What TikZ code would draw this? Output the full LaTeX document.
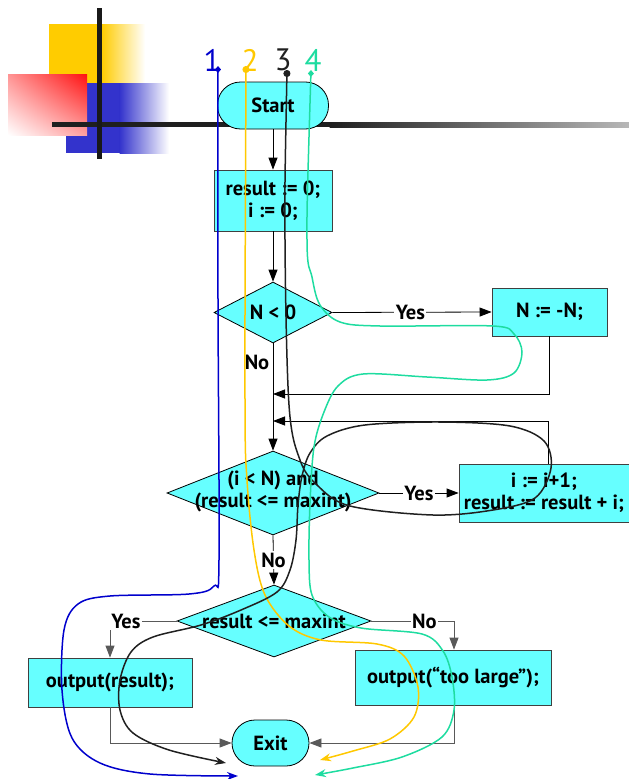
\documentclass[tikz,border=0pt]{standalone}
\usepackage{fontspec}
\setmainfont{PT Sans}
\usetikzlibrary{shapes.geometric,arrows.meta,calc,shadings}
\definecolor{boxfill}{HTML}{66FFFF}
\definecolor{decoyellow}{HTML}{FFCC00}
\definecolor{decoblue}{HTML}{3333CC}
\definecolor{decored}{HTML}{FF1010}
\definecolor{traceone}{HTML}{0000CC}
\definecolor{tracetwo}{HTML}{FFC800}
\definecolor{tracethree}{HTML}{202020}
\definecolor{tracefour}{HTML}{1EDCA0}
\begin{document}
\begin{tikzpicture}[x=1pt,y=-1pt,
  every node/.style={font=\fontsize{20.5}{22}\selectfont\bfseries},
  procbox/.style={draw=black!75,fill=boxfill,rectangle,inner sep=0pt,line width=0.8pt,align=center},
  termbox/.style={draw=black,fill=boxfill,rectangle,rounded corners=23pt,inner sep=0pt,line width=0.8pt},
  decision/.style={draw=black,fill=boxfill,diamond,inner sep=0pt,line width=0.8pt},
  flow/.style={draw=black,line width=0.8pt,-{Triangle[length=12pt,width=9pt]}},
  flowgray/.style={draw=black!65,line width=0.8pt,-{Triangle[length=12pt,width=9pt]}},
  lbl/.style={fill=white,inner sep=1.5pt,align=center},
  trace/.style={line width=1.5pt,smooth,tension=0.55},
  num/.style={font=\fontsize{31}{31}\selectfont,inner sep=0pt}
]
\useasboundingbox (0,0) rectangle (629,779);

% --- corner decoration ---
\fill[decoyellow] (49,24) rectangle (102,83);
\shade[left color=decoyellow,right color=white] (101.5,24) rectangle (145,83);
\fill[decoblue] (66,83) rectangle (120,153);
\shade[left color=decoblue,right color=white] (119.5,83) rectangle (169,153);
\shade[upper right=decored,lower left=white,upper left=decored!45!white,lower right=decored!40!white]
  (8,74) rectangle (87,135);
\fill[black!88] (52,122) rectangle (330,127);
\shade[left color=black!88,right color=black!28] (329.5,122) rectangle (629,127);
\fill[black!90] (97,8) rectangle (102,159);

% --- flowchart nodes ---
\node[termbox,minimum width=111pt,minimum height=47pt] (start) at (273,105.5) {Start};
\node[procbox,minimum width=118pt,minimum height=61pt] (init) at (273,200.5) {result := 0;\\ i := 0;};
\node[decision,minimum width=118pt,minimum height=61pt] (test1) at (273,312.5) {};
\node (test1t) at (test1) {N < 0};
\node[procbox,minimum width=115pt,minimum height=48pt] (neg) at (549.5,312) {N := -N;};
\node[decision,minimum width=212pt,minimum height=84pt] (test2) at (273,493) {};
\node[align=center] (test2t) at (273,491) {(i < N) and\\(result <= maxint)};
\node[procbox,minimum width=170pt,minimum height=58pt] (inc) at (544,493) {i := i+1;\\ result := result + i;};
\node[decision,minimum width=194pt,minimum height=72pt] (test3) at (274,621) {};
\node (test3t) at (test3) {result <= maxint};
\node[procbox,minimum width=164pt,minimum height=49pt] (outres) at (110,682.5) {output(result);};
\node[procbox,minimum width=196pt,minimum height=55pt] (outbig) at (453,677.5) {output(“too large”);};
\node[termbox,minimum width=77pt,minimum height=46pt] (exit) at (270.5,743) {Exit};

\coordinate (join1) at (273,394);
\coordinate (join2) at (273,421);

% --- connectors ---
\draw[flow] (start) -- (init);
\draw[flow] (init) -- (test1);
\draw[flow] (test1.east) -- node[lbl,pos=0.49] {Yes} (neg.west);
\draw[flow] (test1.south) -- (test2.north);
\node[inner sep=0pt] (nolbl1) at (257,362) {No};
\draw[flow] (neg.south) |- (join1);
\draw[flow] ([xshift=4pt]inc.north) |- (join2);
\draw[flow] (test2.east) -- node[lbl,pos=0.5] {Yes} (inc.west);
\draw[flow] (test2.south) -- node[lbl,pos=0.5] {No} (test3.north);
\draw[flowgray] (test3.west) -| (outres.north);
\node[lbl] (yeslbl3) at (126,621) {Yes};
\draw[flowgray] (test3.east) -| node[lbl,pos=0.32] {No} ([xshift=1pt]outbig.north);
\draw[flowgray] (outres.south) |- (exit.west);
\draw[flowgray] (outbig.south -| 454,0) |- (exit.east);

% --- path traces ---
\node[num,text=traceone]   (n1) at (212,60) {1};
\node[num,text=tracetwo]   (n2) at (250,60) {2};
\node[num,text=tracethree] (n3) at (283,60) {3};
\node[num,text=tracefour]  (n4) at (313,60) {4};

\draw[trace,traceone,{Diamond[length=7pt,width=6pt]}-{Stealth[length=11pt,width=8pt]}]
  plot coordinates {(218,66) (218,300) (219,560) (214,586) (189,594) (110,596) (78,604)
    (64,630) (62,690) (72,738) (100,763) (150,774) (238,776)};
\draw[trace,tracetwo,{Circle[length=7pt]}-{Stealth[length=11pt,width=8pt]}]
  plot coordinates {(246,66) (245,400) (247,480) (254,550) (265,595) (289,626) (321,640)
    (377,644) (404,656) (418,687) (414,717) (390,739) (353,751) (320,760)};
\draw[trace,tracethree,{Circle[length=7pt]}-{Stealth[length=11pt,width=8pt]}]
  plot coordinates {(287,70) (285,240) (289,405) (300,460) (317,485) (350,506) (433,515)
    (493,510) (535,498) (551,468) (544,441) (510,426) (440,422) (365,425) (327,436)
    (310,453) (302,476) (298,505) (296,540) (290,570) (277,592) (241,610) (201,625)
    (153,637) (131,652) (120,680) (120,710) (133,733) (169,750) (226,763)};
\draw[trace,tracefour,{Diamond[length=7pt,width=6pt]}-{Stealth[length=11pt,width=8pt]}]
  plot coordinates {(311,70) (307,240) (312,277) (320,305) (340,322) (380,326) (493,326)
    (514,334) (522,352) (514,373) (487,380) (427,377) (363,374) (338,386) (324,412)
    (314,447) (310,503) (309,560) (312,595) (329,617) (361,628) (422,634) (443,651)
    (452,677) (454,710) (442,737) (402,757) (353,768) (315,775)};
\end{tikzpicture}
\end{document}
